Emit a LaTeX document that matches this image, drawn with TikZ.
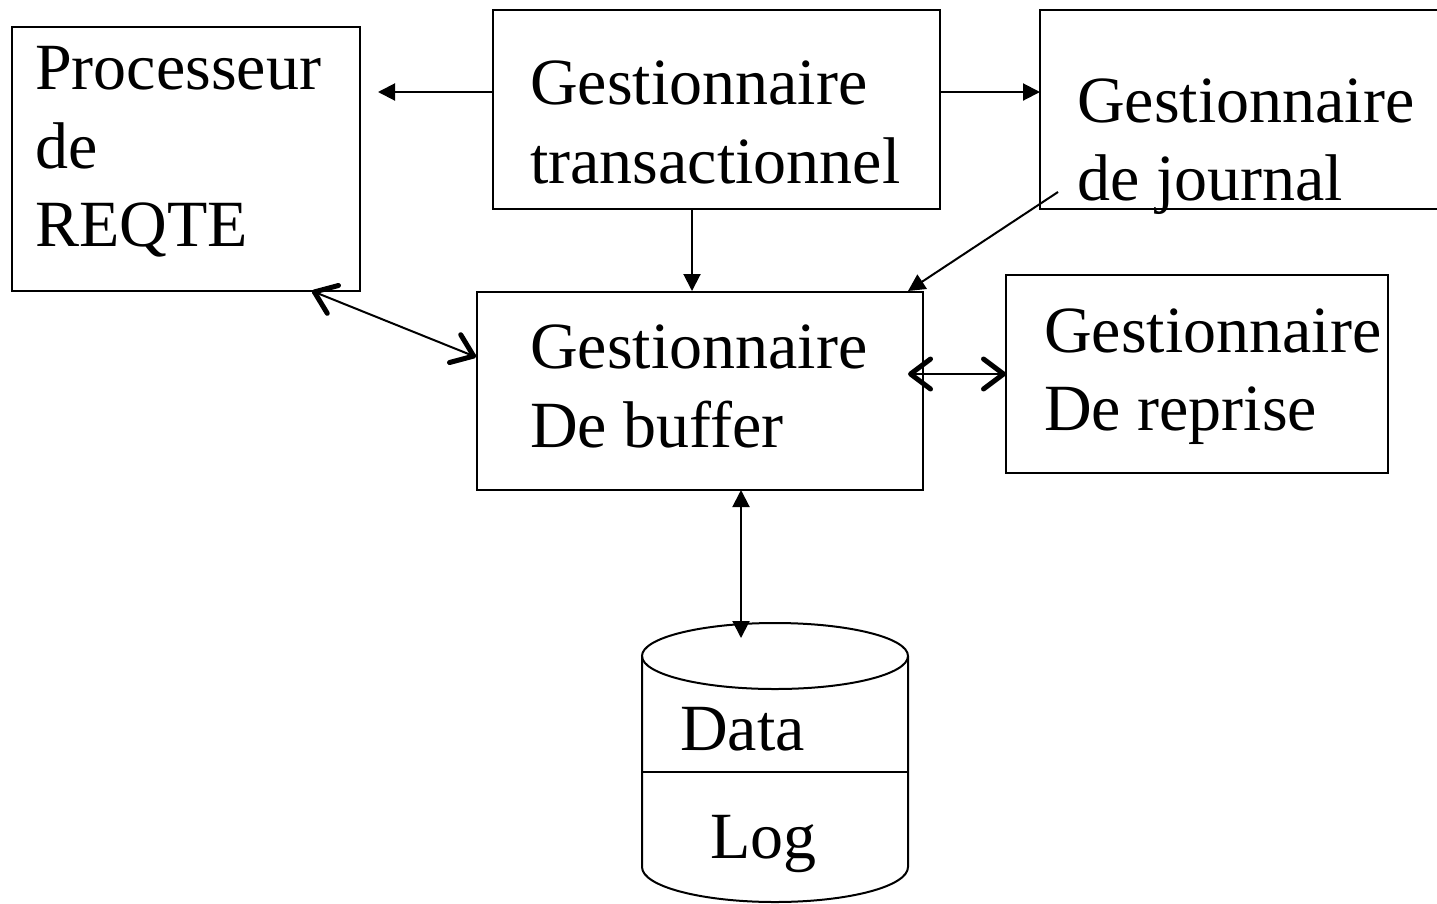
\documentclass[tikz,border=0pt]{standalone}
\usepackage{fontspec}
\setmainfont{Liberation Serif}
\usetikzlibrary{arrows.meta}
\tikzset{
  box/.style={draw, line width=2pt, inner sep=0pt, outer sep=0pt},
  txt/.style={anchor=base west, inner sep=0pt, font=\fontsize{66}{79}\selectfont},
  conn/.style={line width=2pt},
  tri/.style={-{Triangle[length=17pt,width=17pt]}},
  tritri/.style={{Triangle[length=17pt,width=17pt]}-{Triangle[length=17pt,width=17pt]}},
  barbs/.style={{Straight Barb[length=20pt,width=30pt,line width=5pt,round]}-{Straight Barb[length=20pt,width=30pt,line width=5pt,round]}},
}
\begin{document}
\begin{tikzpicture}[x=1pt,y=-1pt]
\useasboundingbox (0,0) rectangle (1437,903);
\clip (0,0) rectangle (1437,903);
% boxes
\node[box, minimum width=348pt, minimum height=264pt] (proc) at (186,159) {};
\node[box, minimum width=447pt, minimum height=199pt] (trans) at (716.5,109.5) {};
\node[box, minimum width=420pt, minimum height=199pt] (journ) at (1250,109.5) {};
\node[box, minimum width=446pt, minimum height=198pt] (buf) at (700,391) {};
\node[box, minimum width=382pt, minimum height=198pt] (rep) at (1197,374) {};
% texts
\node[txt] (p1) at (35,89) {Processeur};
\node[txt] (p2) at (35,168) {de};
\node[txt] (p3) at (35,246) {REQTE};
\node[txt] (t1) at (530,104) {Gestionnaire};
\node[txt] (t2) at (530,183) {transactionnel};
\node[txt] (j1) at (1077,122) {Gestionnaire};
\node[txt] (j2) at (1077,200) {de journal};
\node[txt] (b1) at (530,368) {Gestionnaire};
\node[txt] (b2) at (530,447) {De buffer};
\node[txt] (r1) at (1044,352) {Gestionnaire};
\node[txt] (r2) at (1044,430) {De reprise};
% cylinder
\draw[line width=2pt] (642,656) -- (642,867) arc[start angle=180,end angle=0,x radius=133,y radius=35] -- (908,656);
\draw[line width=2pt] (775,656) ellipse[x radius=133, y radius=33];
\draw[line width=2pt] (642,772) -- (908,772);
\node[txt] (d1) at (680,750) {Data};
\node[txt] (l1) at (710,858) {Log};
% coordinates
\coordinate (procL) at (378,92);
\coordinate (transL) at (493,92);
\coordinate (transR) at (940,92);
\coordinate (journL) at (1040,92);
\coordinate (transB) at (692,209);
\coordinate (bufT) at (692,291);
\coordinate (journS) at (1058,192);
\coordinate (bufTR) at (908,291);
\coordinate (procB) at (312,291);
\coordinate (bufL) at (476,357);
\coordinate (bufR) at (908,374);
\coordinate (repL) at (1006,374);
\coordinate (bufB) at (741,490);
\coordinate (cylT) at (741,638);
% connectors
\draw[conn,tri] (transL) -- (procL);
\draw[conn,tri] (transR) -- (journL);
\draw[conn,tri] (transB) -- (bufT);
\draw[conn,tri] (journS) -- (bufTR);
\draw[conn,barbs] (procB) -- (bufL);
\draw[conn,barbs] (bufR) -- (repL);
\draw[conn,tritri] (bufB) -- (cylT);
\end{tikzpicture}
\end{document}
